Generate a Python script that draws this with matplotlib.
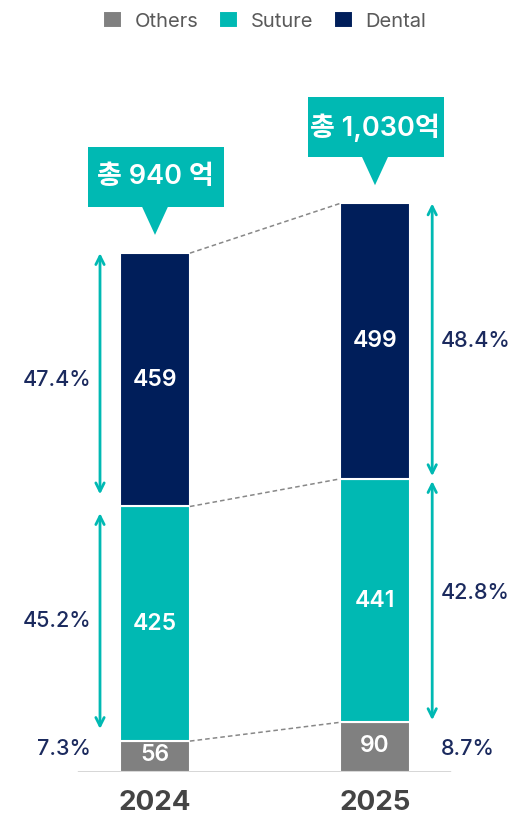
import matplotlib
matplotlib.use('Agg')
import matplotlib.pyplot as plt
from matplotlib.patches import Polygon, Rectangle
import numpy as np

plt.rcParams['font.family'] = ['Inter', 'Noto Sans CJK KR', 'DejaVu Sans']

years = ['2024', '2025']
others = [56, 90]
suture = [425, 441]
dental = [459, 499]
pct_others = ['7.3%', '8.7%']
pct_suture = ['45.2%', '42.8%']
pct_dental = ['47.4%', '48.4%']
totals = ['총 940 억', '총 1,030억']

c_oth = '#808080'
c_sut = '#00B9B3'
c_den = '#001E5A'
c_pct = '#1B2A5E'

W, H = 514, 819
fig = plt.figure(figsize=(W / 100, H / 100), dpi=100)
base_px = 772
ax = fig.add_axes([0, (H - base_px) / H, 1, base_px / H])
scale = 0.552  # px per unit
ax.set_ylim(0, base_px / scale)
ax.set_xlim(-155 / 220, (W - 155) / 220)
ax.axis('off')

x = np.arange(len(years))
oth = np.array(others)
sut = np.array(suture)
den = np.array(dental)
bw = 0.318
ax.bar(x, oth, bw, color=c_oth, edgecolor='white', linewidth=1.5, label='Others')
ax.bar(x, sut, bw, bottom=oth, color=c_sut, edgecolor='white', linewidth=1.5, label='Suture')
ax.bar(x, den, bw, bottom=oth + sut, color=c_den, edgecolor='white', linewidth=1.5, label='Dental')

# baseline
ax.plot([-0.35, 1.34], [0, 0], color='#333333', lw=1, zorder=1)

# values in bars
for i in range(len(years)):
    ax.text(x[i], oth[i] / 2 + 2, str(others[i]), ha='center', va='center', color='white',
            fontsize=16.5, fontweight='semibold')
    ax.text(x[i], oth[i] + sut[i] / 2, str(suture[i]), ha='center', va='center', color='white',
            fontsize=16.5, fontweight='semibold')
    ax.text(x[i], oth[i] + sut[i] + den[i] / 2, str(dental[i]), ha='center', va='center',
            color='white', fontsize=16.5, fontweight='semibold')
    ax.text(x[i], -57, years[i], ha='center', va='center', color='#444444',
            fontsize=20, fontweight='bold')

# dashed connectors
for lvl in [oth, oth + sut, oth + sut + den]:
    ax.plot([x[0] + bw / 2, x[1] - bw / 2], [lvl[0], lvl[1]], ls=(0, (3, 2)),
            color='#888888', lw=1.1, zorder=1)

# double arrows and percentages
arr_x = [-0.25, 1.26]
pct_x = [-0.29, 1.3]
pct_ha = ['right', 'left']
gaps = [(22, 12, 22), (5, 4, 4)]
for i in range(len(years)):
    g = gaps[i]
    top = oth[i] + sut[i] + den[i]
    mid = oth[i] + sut[i]
    ax.annotate('', xy=(arr_x[i], top), xytext=(arr_x[i], mid + g[0]),
                arrowprops=dict(arrowstyle='<->,head_length=0.6,head_width=0.3',
                                color=c_sut, lw=2, shrinkA=0, shrinkB=0))
    ax.annotate('', xy=(arr_x[i], mid - g[1]), xytext=(arr_x[i], oth[i] + g[2]),
                arrowprops=dict(arrowstyle='<->,head_length=0.6,head_width=0.3',
                                color=c_sut, lw=2, shrinkA=0, shrinkB=0))
    ax.text(pct_x[i], mid + den[i] / 2, pct_dental[i], ha=pct_ha[i], va='center',
            color=c_pct, fontsize=15.5, fontweight='medium')
    ax.text(pct_x[i], oth[i] + sut[i] / 2 + 5 + i * 8, pct_suture[i], ha=pct_ha[i],
            va='center', color=c_pct, fontsize=15.5, fontweight='medium')
    ax.text(pct_x[i], 42, pct_others[i], ha=pct_ha[i], va='center',
            color=c_pct, fontsize=15.5, fontweight='medium')

# total callouts
for i in range(len(years)):
    top = oth[i] + sut[i] + den[i]
    tip = top + 33
    tri_top = tip + 51
    box_h = 108
    box_w = 0.62
    ax.add_patch(Rectangle((x[i] - box_w / 2 + 0.005, tri_top), box_w, box_h, color=c_sut,
                           lw=0, zorder=3))
    ax.add_patch(Polygon([(x[i] - 0.06, tri_top + 1), (x[i] + 0.06, tri_top + 1), (x[i], tip)],
                         closed=True, color=c_sut, lw=0, zorder=3))
    ax.text(x[i], tri_top + box_h / 2, totals[i], ha='center', va='center', color='white',
            fontsize=19.5, fontweight='semibold', zorder=4)

leg = ax.legend(loc='upper center', bbox_to_anchor=(0.515, 1.0), ncol=3,
                frameon=False, handlelength=0.95, handleheight=0.95, handletextpad=0.6,
                columnspacing=1.05, fontsize=14.5, borderaxespad=0.15)
for t in leg.get_texts():
    t.set_color('#5a5a5a')

fig.savefig('out.png', dpi=100)
